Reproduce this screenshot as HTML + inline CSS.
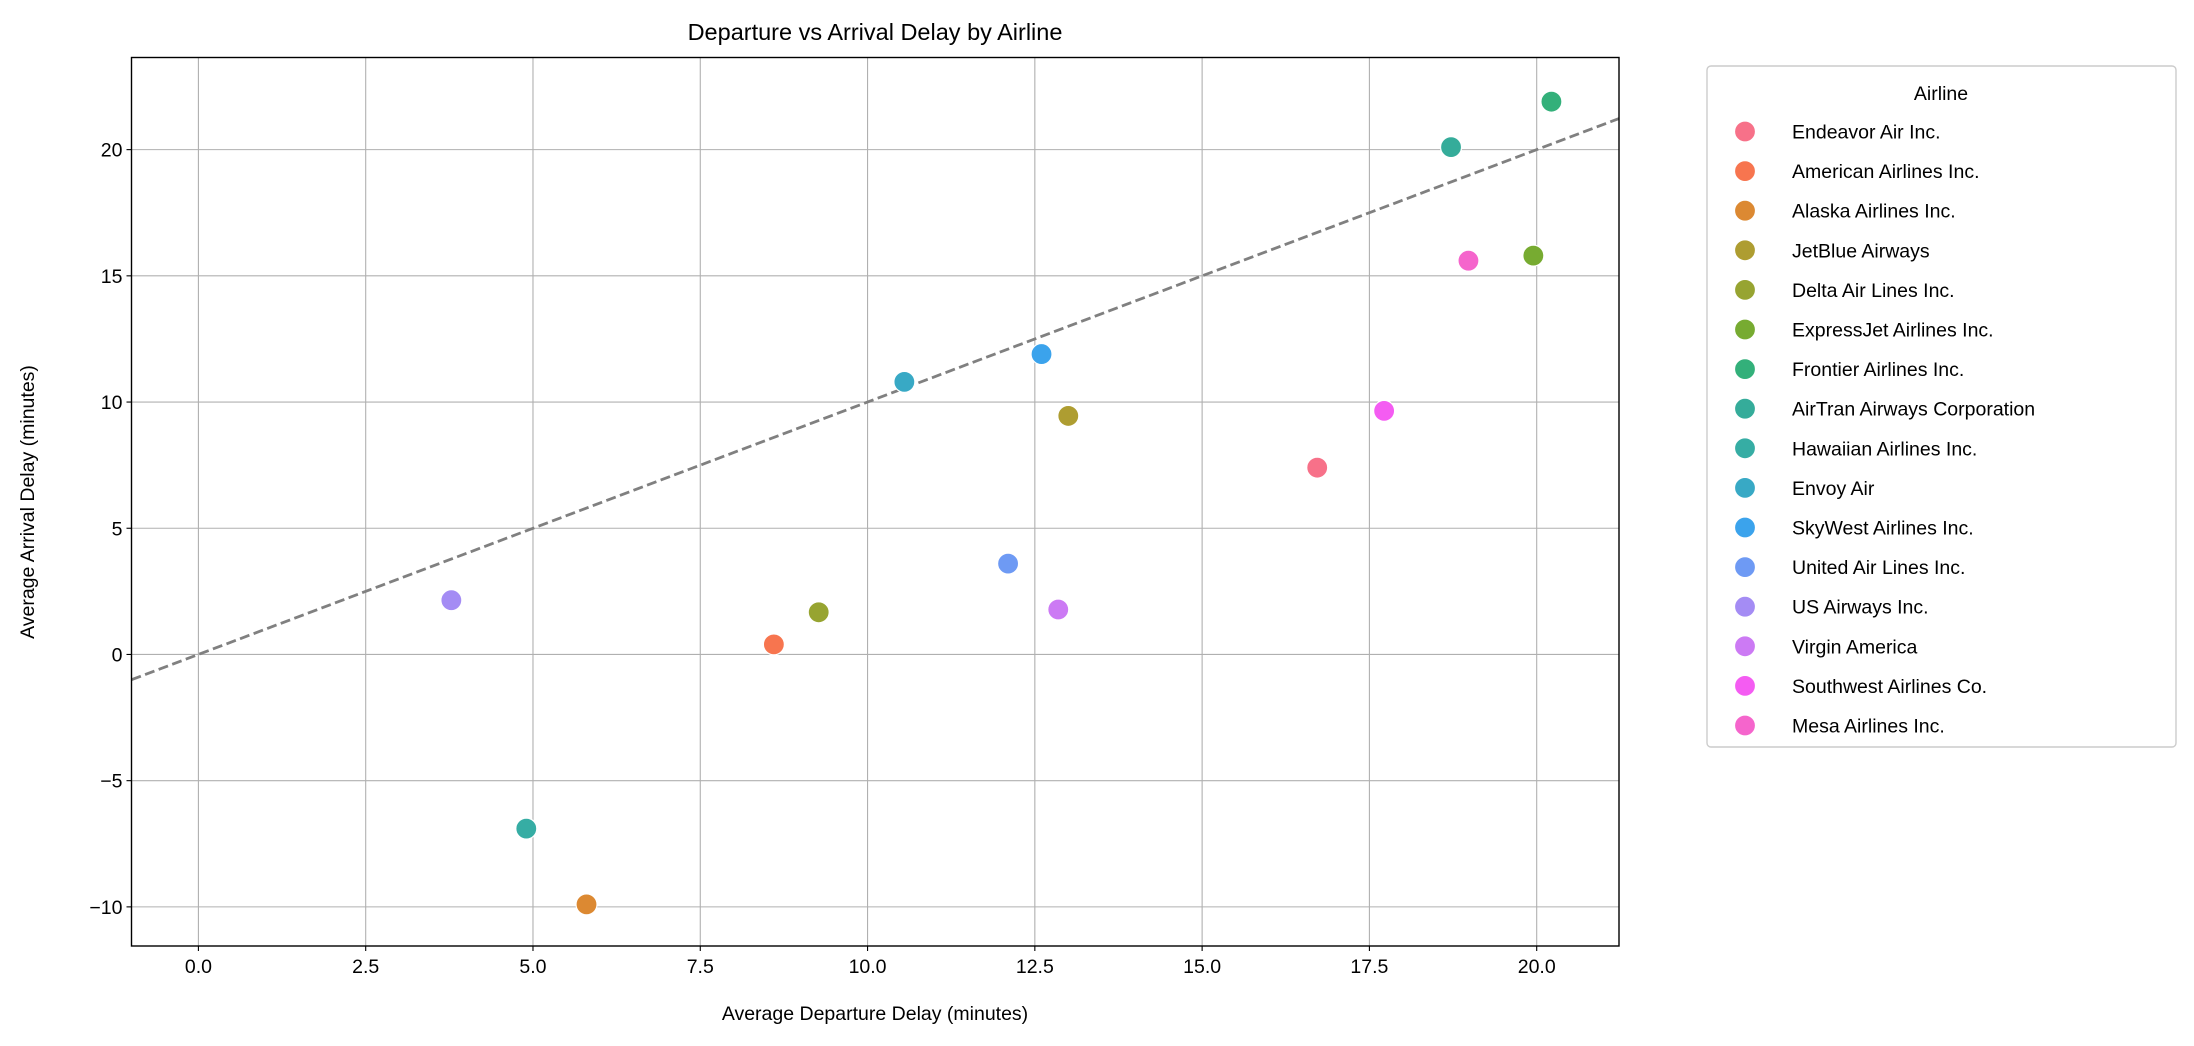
<!DOCTYPE html>
<html><head><meta charset="utf-8"><style>
html,body{margin:0;padding:0;background:#fff;}
svg{display:block;font-family:"Liberation Sans","DejaVu Sans",sans-serif;}
</style></head><body>
<svg id="chart" width="2194" height="1046" viewBox="0 0 2194 1046" xmlns="http://www.w3.org/2000/svg">
<rect width="2194" height="1046" fill="#fff"/>
<text x="875" y="40" font-size="23.5" text-anchor="middle">Departure vs Arrival Delay by Airline</text>
<g id="grid"></g>
<g id="ticks"></g>
<g id="marks"></g>
<rect x="131.5" y="57.5" width="1487.5" height="888.5" fill="none" stroke="#000" stroke-width="1.4"/>
<text x="875" y="1020" font-size="19.5" text-anchor="middle">Average Departure Delay (minutes)</text>
<text transform="translate(34,502) rotate(-90)" font-size="19.5" text-anchor="middle">Average Arrival Delay (minutes)</text>
<g id="legend">
<rect x="1707" y="66" width="469" height="681" rx="4" fill="#fff" stroke="#ccc" stroke-width="1.4"/>
<text x="1941" y="100" font-size="19.5" text-anchor="middle">Airline</text>
</g>
</svg>
<script>
const airlines=["Endeavor Air Inc.","American Airlines Inc.","Alaska Airlines Inc.","JetBlue Airways","Delta Air Lines Inc.","ExpressJet Airlines Inc.","Frontier Airlines Inc.","AirTran Airways Corporation","Hawaiian Airlines Inc.","Envoy Air","SkyWest Airlines Inc.","United Air Lines Inc.","US Airways Inc.","Virgin America","Southwest Airlines Co.","Mesa Airlines Inc."];
const depDelay=[16.72,8.6,5.8,13.0,9.27,19.95,20.22,18.72,4.9,10.55,12.6,12.1,3.78,12.85,17.72,18.98];
const arrDelay=[7.4,0.4,-9.9,9.45,1.67,15.8,21.9,20.1,-6.9,10.8,11.9,3.6,2.15,1.78,9.65,15.6];
const colors=["#f77189","#f7754f","#dc8932","#ae9d31","#97a431","#77ab31","#33b07a","#35ac9a","#36ada4","#38a9c5","#3ba3ec","#6e9af4","#a48cf4","#cc7af4","#f45cf2","#f565cc"];
const xTicks=[0,2.5,5,7.5,10,12.5,15,17.5,20];
const xTickLabels=["0.0","2.5","5.0","7.5","10.0","12.5","15.0","17.5","20.0"];
const yTicks=[-10,-5,0,5,10,15,20];
const yTickLabels=["\u221210","\u22125","0","5","10","15","20"];
const NS="http://www.w3.org/2000/svg";
const L=131.5,R=1619,T=57.5,B=946;
const xMin=-1.0,xMax=21.23,yMin=-11.55,yMax=23.65;
const sx=v=>L+(v-xMin)/(xMax-xMin)*(R-L);
const sy=v=>B-(v-yMin)/(yMax-yMin)*(B-T);
function mk(tag,attrs,parent,txt){const e=document.createElementNS(NS,tag);for(const k in attrs)e.setAttribute(k,attrs[k]);if(txt!==undefined)e.textContent=txt;parent.appendChild(e);return e;}
const grid=document.getElementById('grid'),ticks=document.getElementById('ticks'),marks=document.getElementById('marks'),legend=document.getElementById('legend');
xTicks.forEach((v,i)=>{const x=sx(v);
 const g=mk('line',{x1:x,x2:x,y1:T,y2:B,stroke:'#b0b0b0','stroke-width':1.1},grid);
 
 
 mk('line',{x1:x,x2:x,y1:B,y2:B+5,stroke:'#000','stroke-width':1.1},ticks);
 const t=mk('text',{x:x,y:B+27,'font-size':19.5,'text-anchor':'middle'},ticks,xTickLabels[i]);
 
 
});
yTicks.forEach((v,i)=>{const y=sy(v);
 const g=mk('line',{x1:L,x2:R,y1:y,y2:y,stroke:'#b0b0b0','stroke-width':1.1},grid);
 
 
 mk('line',{x1:L-5,x2:L,y1:y,y2:y,stroke:'#000','stroke-width':1.1},ticks);
 const t=mk('text',{x:L-9,y:y+7,'font-size':19.5,'text-anchor':'end'},ticks,yTickLabels[i]);
 
 
});
const ref=mk('line',{x1:sx(xMin),y1:sy(xMin),x2:sx(xMax),y2:sy(xMax),stroke:'#808080','stroke-width':2.8,'stroke-dasharray':'10,4.5'},marks);


airlines.forEach((a,i)=>{
 const c=mk('circle',{cx:sx(depDelay[i]),cy:sy(arrDelay[i]),r:10.5,fill:colors[i],stroke:'#fff','stroke-width':1.2},marks);
 
 
 const y=131.5+i*39.6;
 const m=mk('circle',{cx:1745,cy:y,r:10.5,fill:colors[i],stroke:'#fff','stroke-width':1.2},legend);
 
 
 const t=mk('text',{x:1792,y:y+7,'font-size':19.5},legend,a);
 
 
});
</script>
</body></html>
